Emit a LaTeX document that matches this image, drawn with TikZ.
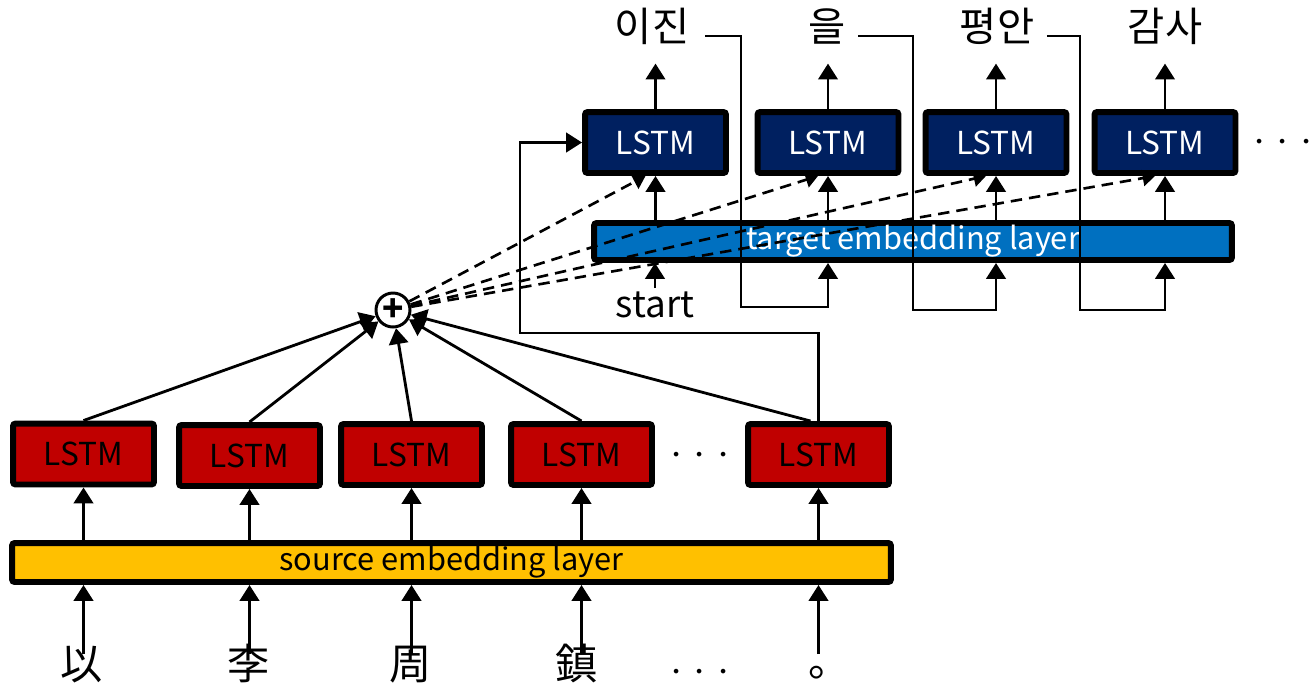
\documentclass[tikz,border=0pt]{standalone}
\usepackage{fontspec}
\setmainfont{Noto Sans CJK KR}
\usetikzlibrary{arrows.meta,calc}
\definecolor{encred}{HTML}{C00000}
\definecolor{embgold}{HTML}{FFC000}
\definecolor{decnavy}{HTML}{002060}
\definecolor{embblue}{HTML}{0070C0}
\newcommand{\mydots}{\makebox[0pt]{$\cdot$}\hspace{13.3pt}\makebox[0pt]{$\cdot$}\hspace{13.3pt}\makebox[0pt]{$\cdot$}}
\begin{document}
\begin{tikzpicture}[x=0.02cm,y=-0.02cm,
  enc/.style={draw=black, line width=3.4pt, fill=encred, rounded corners=1.5pt,
    minimum width=2.82cm, minimum height=1.22cm, inner sep=0,
    font=\fontsize{18}{21}\selectfont, text=black},
  dec/.style={enc, fill=decnavy, text=white},
  emb/.style={draw=black, line width=3.4pt, rounded corners=1.5pt, inner sep=0,
    font=\fontsize{17.5}{20}\selectfont},
  arr/.style={line width=1.6pt, -{Triangle[width=11pt,length=9pt]}},
  dsharr/.style={line width=1.5pt, dash pattern=on 6.5pt off 4pt, -{Triangle[width=9pt,length=7pt]}},
  word/.style={inner sep=0, font=\fontsize{23}{26}\selectfont, text height=0.8em, text depth=0.2em},
  hanzi/.style={inner sep=0, font=\fontsize{24}{28}\selectfont, text height=0.8em, text depth=0pt},
  dots/.style={inner sep=0, font=\fontsize{24}{26}\selectfont}
]
\useasboundingbox (0,0) rectangle (1316,691);

% encoder
\node[enc] (e1) at (83.5,454) {LSTM};
\node[enc] (e2) at (249.5,455.5) {LSTM};
\node[enc] (e3) at (411.5,454.5) {LSTM};
\node[enc] (e4) at (581.5,454.5) {LSTM};
\node[enc] (e5) at (818.5,454.5) {LSTM};
\node[dots] (md) at (700,456) {\mydots};

\node[emb, fill=embgold, minimum width=17.58cm, minimum height=0.78cm] (se) at (451.5,562.5) {source embedding layer};

\node[hanzi] (c1) at (82,672) {以};
\node[hanzi] (c2) at (249,672) {李};
\node[hanzi] (c3) at (411,672) {周};
\node[hanzi] (c4) at (577,672) {鎮};
\node[hanzi] (c5) at (830,672) {\raisebox{1.5pt}{。}};
\node[dots] (bd) at (700,673) {\mydots};

\foreach \i in {1,...,5}{
  \draw[arr, shorten <=6pt] (e\i |- c1.north) -- (e\i |- se.south);
  \draw[arr] (e\i |- se.north) -- (e\i.south);
}

% combine
\node[circle, draw, line width=1.7pt, minimum size=0.68cm, inner sep=0, fill=white,
  font=\fontsize{20}{20}\selectfont] (p) at (393,310) {\textbf{+}};
\foreach \i in {1,...,4}{
  \draw[arr] (e\i.north) -- (p);
}
\draw[arr] ($(e5.north)+(-8,0)$) -- (p);

% decoder
\node[dec] (d1) at (655.5,142.5) {LSTM};
\node[dec] (d2) at (828,142.5) {LSTM};
\node[dec] (d3) at (996,142.5) {LSTM};
\node[dec] (d4) at (1165,142.5) {LSTM};
\node[dots] (td) at (1283,143) {\mydots};

\node[emb, fill=embblue, text=white, minimum width=12.76cm, minimum height=0.74cm] (te) at (913,241.5) {target embedding layer};

\node[word] (w1) at (652,36) {이진};
\node[word] (w2) at (827,36) {을};
\node[word] (w3) at (997,36) {평안};
\node[word] (w4) at (1165,36) {감사};
\node[inner sep=0, font=\fontsize{21}{24}\selectfont] (st) at (655,305) {start};

% encoder state into decoder
\coordinate (r) at (520,333);
\draw[arr] (e5.north) |- (r) |- (d1.west);

% attention (dashed)
\foreach \i in {1,...,4}{
  \draw[dsharr] (p) -- ($(d\i.south)+(-10,0)$);
}

% decoder arrows
\foreach \i in {1,...,4}{
  \draw[arr] (d\i |- te.north) -- (d\i.south);
  \draw[arr, shorten >=10.5pt] (d\i.north) -- (d\i |- w\i.south);
}
\draw[arr, shorten <=2pt] (st.north) -- (st.north |- te.south);

% feedback
\draw[arr, shorten <=9pt] (w1.east) -| (741,307) -| (d2 |- te.south);
\draw[arr, shorten <=7pt] (w2.east) -| (913,310) -| (d3 |- te.south);
\draw[arr, shorten <=7pt] (w3.east) -| (1080,310) -| (d4 |- te.south);
\end{tikzpicture}
\end{document}
